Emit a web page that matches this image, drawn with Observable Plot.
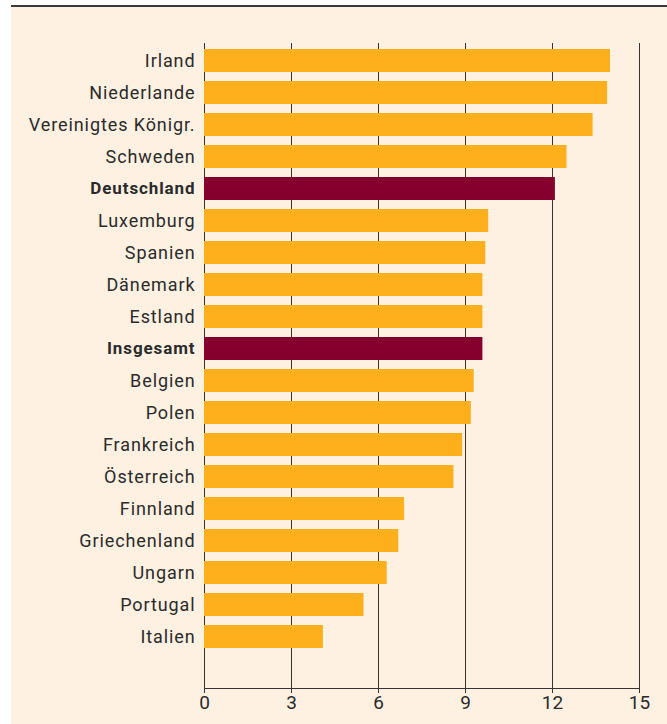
<!DOCTYPE html>
<html><head><meta charset="utf-8">
<script src="https://cdn.jsdelivr.net/npm/d3@7"></script>
<script src="https://cdn.jsdelivr.net/npm/@observablehq/plot@0.6"></script>
<style>
html,body{margin:0;padding:0;background:#fff;}
#wrap{margin-left:11px;margin-top:5px;border-top:2px solid #3a3a3a;background:#FEF1E2;width:656px;height:717px;}
svg{display:block;}
svg g[aria-label="text"] text{letter-spacing:0.9px;}
</style></head><body>
<div id="wrap"></div>
<script>
const countries = ["Irland","Niederlande","Vereinigtes Königr.","Schweden","Deutschland","Luxemburg","Spanien","Dänemark","Estland","Insgesamt","Belgien","Polen","Frankreich","Österreich","Finnland","Griechenland","Ungarn","Portugal","Italien"];
const values = [14.0,13.9,13.4,12.5,12.1,9.8,9.7,9.6,9.6,9.6,9.3,9.2,8.9,8.6,6.9,6.7,6.3,5.5,4.1];
const highlighted = ["Deutschland","Insgesamt"];
const xTicks = [0,3,6,9,12,15];

const data = countries.map((c,i)=>({country:c, value:values[i], hl: highlighted.includes(c)}));
const font = "Roboto, 'DejaVu Sans', sans-serif";

const chart = Plot.plot({
  width: 656, height: 717,
  marginLeft: 193, marginRight: 28, marginTop: 36, marginBottom: 36,
  style: {background: "transparent", fontFamily: font, color: "#2a2a2a"},
  x: {domain: [0,15], ticks: xTicks, label: null},
  y: {domain: countries, range: [33.5, 650.5], padding: 0.28, axis: null},
  marks: [
    Plot.gridX(xTicks, {stroke: "#333", strokeOpacity: 1, strokeWidth: 1}),
    Plot.barX(data, {y: "country", x: "value", fill: d => d.hl ? "#86002E" : "#FDB01B"}),
    Plot.text(data.filter(d=>!d.hl), {x: 0, y: "country", text: "country", textAnchor: "end", dx: -9, fontSize: 18, fill: "#2a2a2a", fontFamily: font}),
    Plot.text(data.filter(d=>d.hl), {x: 0, y: "country", text: "country", textAnchor: "end", dx: -9, fontSize: 17, fontWeight: "bold", fill: "#2a2a2a", fontFamily: font}),
    Plot.axisX(xTicks, {anchor: "bottom", tickSize: 5, tickPadding: 2, fontSize: 19, stroke: "#333", label: null}),
    Plot.frame({anchor: "bottom", stroke: "#333"})
  ]
});
document.getElementById("wrap").appendChild(chart);
</script>
</body></html>
